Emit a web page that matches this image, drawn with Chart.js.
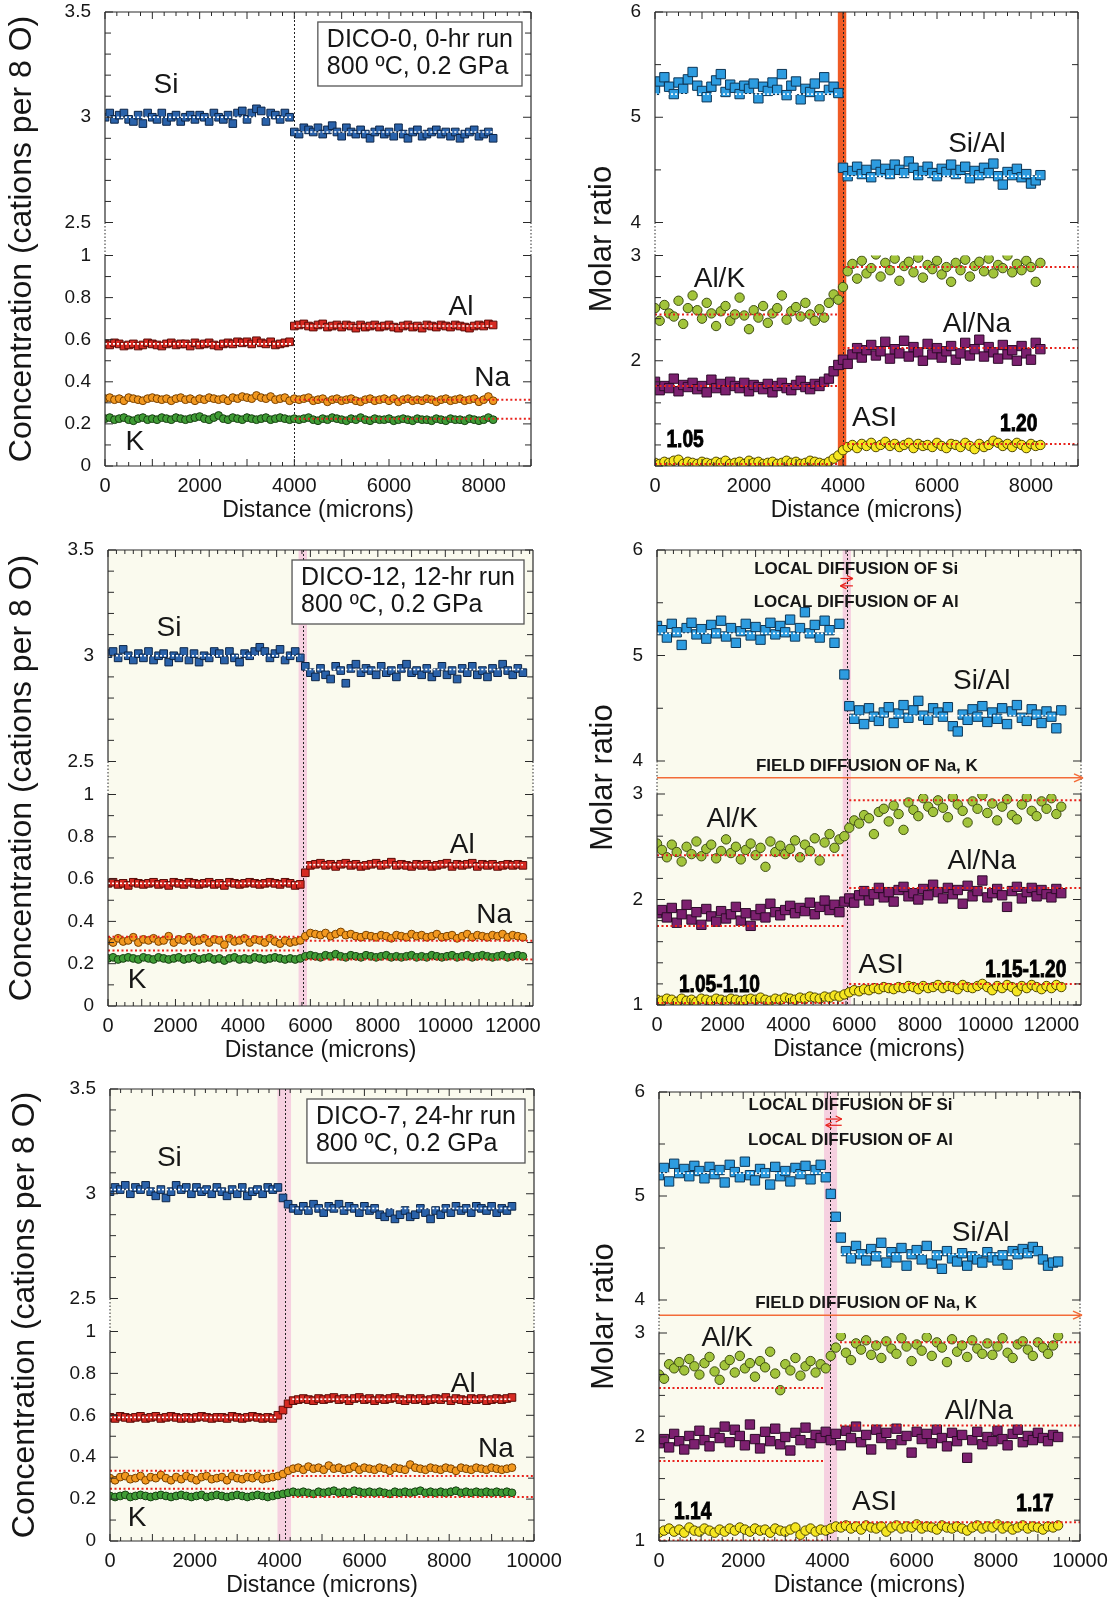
<!DOCTYPE html>
<html>
<head>
<meta charset="utf-8">
<title>DICO diffusion couples</title>
<script src="https://cdn.jsdelivr.net/npm/chart.js@4.4.1/dist/chart.umd.min.js"></script>
<style>
  html, body { margin: 0; padding: 0; background: #fff; }
  #page { position: relative; width: 1110px; height: 1599px; overflow: hidden; }
  #page canvas { position: absolute; }
</style>
</head>
<body>
<div id="page">
  <canvas id="tl"></canvas>
  <canvas id="ml"></canvas>
  <canvas id="bl"></canvas>
  <canvas id="tr"></canvas>
  <canvas id="mr"></canvas>
  <canvas id="br"></canvas>
</div>
<script>
/* ── traverse data: one value per spot, spots evenly spaced along the couple ── */

// spot spacing (microns) for the 0-hr, 12-hr and 24-hr traverses
var stepTop = 100, stepMid = 150, stepBot = 120;

// distance tick labels (microns)
var ticksTop = [0, 2000, 4000, 6000, 8000];
var ticksMid = [0, 2000, 4000, 6000, 8000, 10000, 12000];
var ticksBot = [0, 2000, 4000, 6000, 8000, 10000];

// DICO-0, cations per 8 O
var tlSi = [3.00,3.02,2.99,3.01,3.02,2.99,2.98,3.01,2.97,3.02, 3.00,2.99,3.02,2.98,3.00,3.01,2.98,3.00,3.01,2.99,
  3.01,3.00,2.98,3.02,3.00,2.99,3.01,2.97,3.02,3.03, 2.99,3.02,3.04,3.03,2.98,3.02,3.01,2.99,3.02,3.00,
  2.93,2.92,2.95,2.94,2.93,2.95,2.92,2.94,2.96,2.93, 2.91,2.95,2.93,2.92,2.94,2.92,2.90,2.93,2.94,2.92,
  2.93,2.91,2.95,2.92,2.90,2.93,2.94,2.91,2.92,2.93, 2.94,2.92,2.93,2.91,2.93,2.90,2.92,2.93,2.94,2.91, 2.92,2.93,2.90];
var tlAl = [0.58,0.575,0.585,0.58,0.57,0.575,0.58,0.57,0.575,0.585, 0.58,0.575,0.57,0.58,0.585,0.575,0.58,0.58,0.57,0.585,
  0.575,0.58,0.585,0.575,0.57,0.58,0.585,0.58,0.59,0.585, 0.59,0.58,0.595,0.585,0.58,0.59,0.575,0.58,0.585,0.59,
  0.665,0.67,0.675,0.665,0.66,0.67,0.675,0.66,0.665,0.67, 0.66,0.67,0.665,0.655,0.67,0.66,0.665,0.67,0.66,0.665,
  0.67,0.66,0.655,0.665,0.67,0.66,0.665,0.655,0.67,0.665, 0.66,0.67,0.665,0.66,0.67,0.665,0.66,0.655,0.665,0.67, 0.665,0.675,0.67];
var tlNa = [0.32,0.325,0.315,0.32,0.31,0.325,0.32,0.315,0.31,0.32, 0.325,0.32,0.315,0.32,0.31,0.32,0.325,0.315,0.32,0.31,
  0.32,0.315,0.325,0.32,0.315,0.32,0.31,0.325,0.32,0.33, 0.325,0.32,0.335,0.325,0.32,0.33,0.315,0.32,0.325,0.31,
  0.32,0.315,0.32,0.325,0.31,0.315,0.32,0.305,0.315,0.32, 0.31,0.315,0.32,0.31,0.305,0.315,0.32,0.31,0.315,0.32,
  0.31,0.32,0.305,0.315,0.32,0.31,0.315,0.31,0.32,0.315, 0.305,0.315,0.32,0.31,0.315,0.32,0.31,0.315,0.32,0.305, 0.315,0.33,0.31];
var tlK = [0.225,0.23,0.22,0.225,0.23,0.22,0.215,0.225,0.23,0.22, 0.225,0.22,0.23,0.225,0.22,0.23,0.225,0.22,0.225,0.23,
  0.235,0.225,0.22,0.23,0.24,0.225,0.22,0.23,0.225,0.22, 0.23,0.225,0.22,0.225,0.23,0.22,0.225,0.23,0.225,0.22,
  0.225,0.22,0.225,0.23,0.22,0.215,0.225,0.22,0.23,0.225, 0.22,0.215,0.225,0.22,0.23,0.22,0.215,0.225,0.22,0.22,
  0.225,0.215,0.22,0.225,0.22,0.215,0.225,0.22,0.22,0.215, 0.225,0.22,0.215,0.225,0.22,0.22,0.215,0.225,0.22,0.215, 0.22,0.23,0.22];

// DICO-0, molar ratios
var trSiAl = [5.26,5.34,5.38,5.29,5.22,5.33,5.27,5.36,5.43,5.30, 5.25,5.19,5.29,5.35,5.41,5.24,5.31,5.28,5.22,5.30,
  5.27,5.32,5.18,5.29,5.25,5.33,5.26,5.41,5.21,5.30, 5.34,5.17,5.27,5.24,5.32,5.20,5.38,5.26,5.29,5.23,
  4.52,4.44,4.49,4.53,4.46,4.50,4.43,4.55,4.48,4.51, 4.46,4.55,4.50,4.47,4.58,4.52,4.45,4.49,4.53,4.47,
  4.44,4.51,4.48,4.55,4.46,4.50,4.53,4.42,4.49,4.45, 4.52,4.47,4.56,4.44,4.36,4.48,4.45,4.51,4.43,4.46, 4.37,4.40,4.45];
var trAlK = [2.50,2.38,2.53,2.45,2.42,2.57,2.35,2.50,2.62,2.48, 2.40,2.55,2.45,2.33,2.47,2.52,2.38,2.44,2.60,2.43,
  2.30,2.48,2.41,2.52,2.36,2.45,2.50,2.62,2.39,2.47, 2.51,2.42,2.55,2.44,2.38,2.49,2.41,2.55,2.63,2.58,
  2.70,2.85,2.92,2.78,2.95,2.83,2.88,3.01,2.80,2.93, 2.86,2.97,2.76,2.90,2.94,2.84,2.98,2.79,2.91,2.87,
  2.95,2.82,2.89,2.75,2.93,2.86,2.96,2.80,2.90,2.94, 2.85,2.97,2.83,2.91,2.88,3.00,2.84,2.92,2.86,2.95, 2.89,2.75,2.93];
var trAlNa = [1.80,1.72,1.76,1.74,1.83,1.71,1.77,1.75,1.79,1.73, 1.76,1.70,1.82,1.74,1.78,1.72,1.80,1.76,1.74,1.79,
  1.71,1.77,1.75,1.73,1.78,1.70,1.76,1.79,1.74,1.72, 1.77,1.81,1.75,1.73,1.78,1.76,1.80,1.83,1.90,1.96,
  2.01,1.97,2.06,2.12,2.03,2.10,2.15,2.05,2.09,2.18, 2.02,2.11,2.07,2.19,2.04,2.13,2.08,2.00,2.16,2.06,
  2.12,2.03,2.09,2.14,2.01,2.07,2.17,2.05,2.11,2.20, 2.04,2.13,2.08,2.02,2.15,2.06,2.10,2.00,2.14,2.07, 2.01,2.17,2.11];
var trAsi = [1.03,1.02,1.04,1.03,1.05,1.06,1.02,1.04,1.03,1.02, 1.04,1.03,1.02,1.04,1.03,1.05,1.02,1.03,1.04,1.02,
  1.05,1.03,1.04,1.02,1.03,1.04,1.02,1.03,1.05,1.03, 1.04,1.02,1.03,1.05,1.04,1.03,1.02,1.04,1.07,1.10,
  1.15,1.18,1.20,1.17,1.21,1.19,1.22,1.18,1.20,1.23, 1.19,1.21,1.18,1.20,1.22,1.17,1.21,1.19,1.20,1.18,
  1.22,1.19,1.17,1.21,1.20,1.18,1.22,1.19,1.16,1.21, 1.18,1.20,1.24,1.22,1.19,1.21,1.18,1.22,1.20,1.17, 1.21,1.19,1.20];

// DICO-12, cations per 8 O
var mlSi = [3.01,3.02,2.99,3.03,3.00,2.98,3.01,2.99,3.02,2.98, 3.00,3.01,2.97,3.00,2.99,3.02,2.98,3.01,2.97,3.00,
  2.99,3.02,3.01,2.98,3.02,2.99,2.97,3.01,3.00,3.02, 3.04,3.02,2.99,3.01,3.03,2.98,3.00,3.02,2.99,
  2.95,2.92,2.90,2.94,2.91,2.89,2.95,2.93,2.87,2.94, 2.96,2.92,2.94,2.93,2.91,2.95,2.92,2.93,2.90,2.94,
  2.96,2.92,2.93,2.91,2.94,2.90,2.92,2.95,2.91,2.93, 2.89,2.94,2.92,2.95,2.91,2.93,2.90,2.94,2.92,2.96, 2.93,2.91,2.94,2.92];
var mlAl = [0.58,0.585,0.575,0.58,0.57,0.585,0.58,0.575,0.58,0.585, 0.575,0.58,0.57,0.585,0.58,0.575,0.585,0.58,0.575,0.58,
  0.585,0.575,0.58,0.57,0.585,0.58,0.575,0.58,0.585,0.58, 0.575,0.58,0.585,0.58,0.575,0.585,0.58,0.57,0.575,
  0.63,0.665,0.67,0.675,0.665,0.67,0.66,0.67,0.675,0.665, 0.67,0.66,0.665,0.67,0.675,0.665,0.67,0.68,0.665,0.67,
  0.665,0.66,0.67,0.665,0.67,0.66,0.665,0.67,0.675,0.66, 0.67,0.665,0.67,0.675,0.66,0.67,0.665,0.67,0.66,0.665, 0.67,0.665,0.67,0.665];
var mlNa = [0.31,0.30,0.32,0.305,0.31,0.325,0.30,0.315,0.31,0.32, 0.305,0.31,0.33,0.30,0.315,0.31,0.325,0.305,0.31,0.32,
  0.30,0.315,0.31,0.29,0.32,0.305,0.31,0.32,0.30,0.315, 0.31,0.30,0.32,0.305,0.295,0.31,0.30,0.305,0.31,
  0.33,0.345,0.34,0.335,0.345,0.33,0.34,0.35,0.335,0.34, 0.33,0.325,0.335,0.33,0.325,0.335,0.33,0.32,0.335,0.33,
  0.325,0.34,0.33,0.335,0.325,0.33,0.34,0.325,0.33,0.335, 0.32,0.33,0.34,0.325,0.335,0.33,0.325,0.335,0.33,0.34, 0.325,0.335,0.33,0.325];
var mlK = [0.225,0.23,0.22,0.225,0.23,0.225,0.22,0.23,0.225,0.22, 0.23,0.225,0.22,0.225,0.23,0.22,0.225,0.23,0.22,0.225,
  0.23,0.22,0.225,0.215,0.225,0.23,0.22,0.225,0.22,0.23, 0.225,0.22,0.225,0.23,0.225,0.22,0.225,0.22,0.225,
  0.235,0.24,0.235,0.23,0.24,0.235,0.245,0.235,0.23,0.24, 0.235,0.23,0.24,0.235,0.23,0.235,0.24,0.23,0.235,0.23,
  0.235,0.24,0.23,0.235,0.23,0.24,0.235,0.23,0.235,0.24, 0.23,0.235,0.24,0.23,0.235,0.24,0.235,0.23,0.235,0.24, 0.23,0.235,0.24,0.235];

// DICO-12, molar ratios
var mrSiAl = [5.28,5.24,5.17,5.30,5.22,5.10,5.26,5.31,5.20,5.25, 5.16,5.29,5.21,5.33,5.18,5.26,5.12,5.23,5.30,5.19,
  5.27,5.15,5.24,5.31,5.20,5.28,5.22,5.34,5.18,5.26, 5.41,5.21,5.29,5.17,5.33,5.24,5.12,5.30,4.82,
  4.52,4.40,4.48,4.35,4.50,4.42,4.38,4.46,4.51,4.36, 4.45,4.53,4.41,4.48,4.57,4.43,4.39,4.50,4.46,4.42,
  4.51,4.33,4.28,4.44,4.39,4.49,4.42,4.52,4.37,4.46, 4.40,4.50,4.35,4.47,4.53,4.41,4.38,4.49,4.44,4.36, 4.47,4.42,4.31,4.48];
var mrAlK = [2.53,2.47,2.40,2.52,2.45,2.36,2.50,2.43,2.55,2.41, 2.48,2.52,2.39,2.46,2.57,2.44,2.50,2.38,2.47,2.53,
  2.42,2.49,2.31,2.55,2.45,2.51,2.43,2.48,2.56,2.40, 2.52,2.46,2.58,2.37,2.54,2.62,2.49,2.57,2.60,
  2.68,2.75,2.72,2.80,2.77,2.62,2.83,2.86,2.74,2.89, 2.81,2.66,2.92,2.85,2.79,2.96,2.88,2.83,2.94,2.87,
  2.78,2.97,2.90,2.84,2.73,2.93,2.86,2.99,2.82,2.91, 2.75,2.88,2.95,2.80,2.76,2.90,2.97,2.84,2.79,2.93, 2.86,2.96,2.81,2.88];
var mrAlNa = [1.87,1.90,1.83,1.92,1.78,1.86,1.95,1.81,1.88,1.76, 1.91,1.84,1.79,1.89,1.82,1.86,1.93,1.80,1.87,1.75,
  1.85,1.91,1.83,1.96,1.88,1.85,1.90,1.94,1.87,1.92, 1.89,1.97,1.86,1.93,1.99,1.90,1.95,1.88,1.98,
  2.01,1.97,2.04,2.08,1.99,2.05,2.11,2.02,2.07,1.98, 2.09,2.12,2.03,2.06,2.00,2.10,2.04,2.14,2.07,2.01,
  2.11,2.05,2.09,1.96,2.13,2.03,2.08,2.18,2.02,2.06, 2.10,2.04,1.93,2.08,2.12,2.01,2.07,2.11,2.03,2.09, 2.05,2.02,2.10,2.06];
var mrAsi = [1.05,1.04,1.06,1.05,1.03,1.06,1.04,1.05,1.03,1.06, 1.05,1.04,1.06,1.05,1.04,1.06,1.05,1.04,1.05,1.06,
  1.05,1.07,1.05,1.04,1.06,1.05,1.07,1.06,1.05,1.07, 1.06,1.08,1.07,1.06,1.08,1.07,1.09,1.08,1.10,
  1.12,1.14,1.13,1.15,1.14,1.16,1.15,1.17,1.16,1.15, 1.17,1.16,1.18,1.17,1.15,1.18,1.16,1.17,1.19,1.16,
  1.18,1.17,1.15,1.19,1.17,1.16,1.18,1.20,1.17,1.14, 1.18,1.16,1.19,1.17,1.13,1.18,1.16,1.19,1.17,1.15, 1.18,1.16,1.19,1.17];

// DICO-7, cations per 8 O
var blSi = [3.01,3.03,3.02,3.04,3.00,3.03,3.02,3.04,3.01,2.99, 3.02,2.98,3.01,3.04,3.02,3.03,3.00,3.03,3.01,3.02,
  3.00,3.03,3.01,2.99,3.02,3.00,3.03,2.99,3.01,3.02, 3.00,3.03,3.02,3.03,
  2.98,2.95,2.93,2.92,2.94,2.92,2.95,2.93,2.91,2.94, 2.93,2.95,2.92,2.94,2.93,2.91,2.94,2.92,2.93,2.90,
  2.89,2.91,2.88,2.90,2.92,2.89,2.90,2.93,2.91,2.88, 2.92,2.90,2.93,2.91,2.94,2.92,2.93,2.91,2.94,2.93, 2.92,2.94,2.91,2.93,2.92,2.94];
var blAl = [0.59,0.585,0.595,0.59,0.585,0.59,0.595,0.585,0.59,0.595, 0.585,0.59,0.595,0.59,0.585,0.59,0.585,0.59,0.595,0.59,
  0.585,0.59,0.59,0.585,0.595,0.59,0.585,0.59,0.595,0.59, 0.585,0.59,0.585,0.60,
  0.625,0.655,0.67,0.675,0.68,0.675,0.67,0.68,0.675,0.68, 0.685,0.675,0.68,0.67,0.68,0.685,0.675,0.68,0.67,0.68,
  0.675,0.68,0.685,0.675,0.67,0.68,0.675,0.68,0.67,0.675, 0.68,0.675,0.685,0.67,0.68,0.675,0.67,0.68,0.675,0.68, 0.67,0.675,0.68,0.675,0.68,0.685];
var blNa = [0.30,0.29,0.305,0.31,0.295,0.30,0.31,0.29,0.305,0.30, 0.315,0.30,0.29,0.305,0.295,0.31,0.30,0.29,0.305,0.31,
  0.295,0.30,0.305,0.29,0.31,0.30,0.295,0.305,0.30,0.31, 0.295,0.30,0.305,0.31,
  0.32,0.335,0.345,0.35,0.34,0.355,0.345,0.35,0.34,0.36, 0.345,0.35,0.34,0.345,0.355,0.34,0.35,0.345,0.34,0.35,
  0.345,0.335,0.35,0.345,0.34,0.365,0.35,0.345,0.34,0.35, 0.345,0.34,0.35,0.345,0.335,0.35,0.345,0.34,0.35,0.345, 0.34,0.35,0.345,0.34,0.345,0.35];
var blK = [0.215,0.21,0.215,0.22,0.21,0.215,0.22,0.215,0.21,0.215, 0.22,0.215,0.21,0.215,0.22,0.215,0.21,0.215,0.22,0.21,
  0.215,0.22,0.215,0.21,0.215,0.22,0.215,0.21,0.215,0.22, 0.215,0.21,0.215,0.22,
  0.225,0.23,0.235,0.23,0.235,0.23,0.225,0.235,0.23,0.235, 0.24,0.23,0.235,0.23,0.24,0.235,0.23,0.235,0.23,0.235,
  0.23,0.225,0.235,0.23,0.235,0.23,0.235,0.24,0.23,0.235, 0.23,0.235,0.23,0.235,0.24,0.23,0.235,0.23,0.235,0.23, 0.235,0.23,0.235,0.23,0.235,0.23];

// DICO-7, molar ratios
var brSiAl = [5.20,5.27,5.14,5.31,5.22,5.26,5.19,5.29,5.24,5.17, 5.28,5.21,5.25,5.13,5.30,5.23,5.18,5.33,5.20,5.15,
  5.26,5.22,5.11,5.28,5.19,5.24,5.14,5.27,5.21,5.29, 5.16,5.25,5.30,5.18,
  5.02,4.80,4.60,4.47,4.40,4.52,4.44,4.38,4.49,4.42, 4.55,4.36,4.46,4.41,4.50,4.33,4.44,4.48,4.39,4.52,
  4.35,4.43,4.30,4.47,4.40,4.37,4.45,4.33,4.42,4.39, 4.36,4.46,4.41,4.38,4.43,4.34,4.47,4.44,4.49,4.45, 4.51,4.47,4.39,4.33,4.36,4.37];
var brAlK = [2.60,2.56,2.70,2.66,2.72,2.64,2.75,2.68,2.60,2.71, 2.77,2.63,2.55,2.69,2.74,2.62,2.78,2.66,2.71,2.58,
  2.73,2.67,2.82,2.61,2.45,2.70,2.64,2.76,2.59,2.68, 2.73,2.62,2.70,2.66,
  2.78,2.86,2.97,2.81,2.74,2.90,2.84,2.93,2.79,2.88, 2.76,2.92,2.85,2.80,2.95,2.87,2.73,2.89,2.83,2.96,
  2.78,2.91,2.86,2.72,2.94,2.82,2.88,2.77,2.93,2.85, 2.80,2.90,2.79,2.87,2.95,2.81,2.76,2.89,2.92,2.84, 2.78,2.91,2.86,2.80,2.88,2.97];
var brAlNa = [1.94,1.98,1.90,2.03,1.96,1.88,2.01,1.93,2.06,1.97, 1.91,2.04,1.99,2.10,1.95,2.07,2.01,1.92,2.12,1.98,
  1.89,2.05,1.96,2.08,1.93,2.00,1.87,2.04,1.97,2.09, 1.94,2.02,1.99,2.05,
  1.97,2.03,1.92,2.06,1.99,2.10,1.95,2.02,1.88,2.07, 1.99,2.04,1.93,2.08,1.97,2.01,1.85,2.05,1.98,2.03,
  1.94,2.07,1.99,1.91,2.04,1.96,2.02,1.80,1.97,2.05, 1.93,2.00,1.96,2.06,1.98,1.92,2.03,2.07,1.95,2.01, 1.97,2.04,1.99,1.96,2.02,2.00];
var brAsi = [1.08,1.10,1.12,1.09,1.11,1.08,1.13,1.10,1.09,1.12, 1.10,1.08,1.11,1.09,1.12,1.10,1.13,1.11,1.09,1.12,
  1.10,1.11,1.08,1.12,1.10,1.09,1.11,1.13,1.06,1.10, 1.12,1.09,1.11,1.10,
  1.12,1.14,1.13,1.15,1.12,1.14,1.11,1.15,1.13,1.12, 1.14,1.09,1.13,1.15,1.12,1.14,1.13,1.16,1.12,1.14,
  1.13,1.11,1.15,1.13,1.12,1.14,1.12,1.10,1.13,1.15, 1.12,1.14,1.13,1.16,1.12,1.14,1.11,1.13,1.15,1.12, 1.14,1.13,1.11,1.14,1.13,1.15];

// reference levels: [series, from (microns), to (microns), level]
var tlGuides = [['Si',0,3950,3.00],['Si',4000,8200,2.93],['Al',0,3950,0.58],['Al',4000,8200,0.665],
  ['Na',4000,9000,0.315],['K',4000,9000,0.225]];
var trGuides = [['SiAl',0,3900,5.22],['SiAl',4000,8200,4.44],['AlK',0,3900,2.44],['AlK',4000,9000,2.89],
  ['AlNa',0,3900,1.76],['AlNa',4000,9000,2.12],['ASI',0,3900,1.02],['ASI',4000,9000,1.21]];
var mlGuides = [['Si',0,5700,3.00],['Si',5850,12300,2.935],['Al',0,5700,0.58],['Al',5850,12300,0.668],
  ['Na',0,5700,0.328],['Na',5850,12600,0.308],['K',0,5700,0.262],['K',5850,12600,0.22]];
var mrGuides = [['SiAl',0,5700,5.21],['SiAl',5850,12300,4.43],['AlK',0,5700,2.42],['AlK',5850,12900,2.94],
  ['AlNa',0,5700,1.75],['AlNa',5850,12900,2.11],['ASI',0,5700,1.02],['ASI',5850,12900,1.20]];
var blGuides = [['Si',0,3960,3.02],['Si',4300,9480,2.93],['Al',0,3960,0.59],['Al',4300,9480,0.677],
  ['Na',0,3900,0.335],['Na',4300,10000,0.31],['K',0,3900,0.25],['K',4300,10000,0.21]];
var brGuides = [['SiAl',0,3960,5.22],['SiAl',4300,8900,4.44],['AlK',0,3900,2.47],['AlK',4300,10000,2.91],
  ['AlNa',0,3900,1.77],['AlNa',4300,10000,2.11],['ASI',0,3900,1.005],['ASI',4300,10000,1.18]];

// interface position and interface zone (microns)
var tlCut = 4000, trCut = 3990, mlCut = 5770, mrCut = 5770, blCut = 4130, brCut = 4070;
var trZone = [3890, 4070], mlZone = [5650, 5900], mrZone = [5650, 5900], blZone = [3950, 4270], brZone = [3920, 4230];

/* ── styling ── */

var FONT = '"Liberation Sans", Arial, Helvetica, sans-serif';
var INK = '#161616';
var GAP = 33;

var marks = {
  Si:   {fill:'#2a62aa', edge:'#0c2548', shape:'rect',   axis:'yHi', guide:'#ffffff'},
  Al:   {fill:'#d62a22', edge:'#5a0c08', shape:'rect',   axis:'yLo', guide:'#ffffff'},
  Na:   {fill:'#f2981f', edge:'#774000', shape:'circle', axis:'yLo', guide:'#e8221c'},
  K:    {fill:'#3f9c35', edge:'#173f12', shape:'circle', axis:'yLo', guide:'#e8221c'},
  SiAl: {fill:'#2d9ce0', edge:'#0d3656', shape:'rect',   axis:'yHi', guide:'#ffffff'},
  AlK:  {fill:'#a2c43b', edge:'#3f4d12', shape:'circle', axis:'yLo', guide:'#e8221c'},
  AlNa: {fill:'#7c206f', edge:'#2d0a29', shape:'rect',   axis:'yLo', guide:'#e8221c'},
  ASI:  {fill:'#f6e620', edge:'#4d4400', shape:'circle', axis:'yLo', guide:'#e8221c'}
};

var panels = [
  { id:'tl', box:[0,0,575,525], plot:[105,531,12,466], ratio:false, xMax:9000, step:stepTop, xTicks:ticksTop,
    series:[['Si',tlSi],['Al',tlAl],['Na',tlNa],['K',tlK]], guides:tlGuides, cut:tlCut, zone:null,
    zoneColor:null, cream:false, yTitleDx:83,
    tags:[['Si',1290,3.15,'yHi'],['Al',7520,0.755,'yLo'],['Na',8180,0.415,'yLo'],['K',630,0.115,'yLo']],
    note:['DICO-0, 0-hr run','800 ºC, 0.2 GPa'] },
  { id:'tr', box:[555,0,555,525], plot:[655,1078,12,466], ratio:true, xMax:9000, step:stepTop, xTicks:ticksTop,
    series:[['SiAl',trSiAl],['AlK',trAlK],['AlNa',trAlNa],['ASI',trAsi]], guides:trGuides, cut:trCut, zone:trZone,
    zoneColor:'#f05a24', cream:false, yTitleDx:53, hideOne:true,
    tags:[['Si/Al',6850,4.74,'yHi'],['Al/K',1370,2.77,'yLo'],['Al/Na',6850,2.35,'yLo'],['ASI',4670,1.45,'yLo']],
    bold:[['1.05',640,1.24],['1.20',7740,1.40]] },
  { id:'ml', box:[0,525,575,540], plot:[108,533,550,1006], ratio:false, xMax:12600, step:stepMid, xTicks:ticksMid,
    series:[['Si',mlSi],['Al',mlAl],['Na',mlNa],['K',mlK]], guides:mlGuides, cut:mlCut, zone:mlZone,
    zoneColor:'#f6d0e0', cream:true, yTitleDx:86,
    tags:[['Si',1810,3.13,'yHi'],['Al',10500,0.76,'yLo'],['Na',11450,0.43,'yLo'],['K',860,0.12,'yLo']],
    note:['DICO-12, 12-hr run','800 ºC, 0.2 GPa'] },
  { id:'mr', box:[555,525,555,540], plot:[657,1081,550,1005], ratio:true, xMax:12900, step:stepMid, xTicks:ticksMid,
    series:[['SiAl',mrSiAl],['AlK',mrAlK],['AlNa',mrAlNa],['ASI',mrAsi]], guides:mrGuides, cut:mrCut, zone:mrZone,
    zoneColor:'#f6d0e0', cream:true, yTitleDx:54,
    tags:[['Si/Al',9880,4.76,'yHi'],['Al/K',2290,2.76,'yLo'],['Al/Na',9880,2.36,'yLo'],['ASI',6820,1.38,'yLo']],
    bold:[['1.05-1.10',1900,1.19],['1.15-1.20',11220,1.33]],
    local:{x:6060, si:5.82, al:5.50, arrows:[[5580,5960,5.73],[5960,5580,5.66]]},
    field:{x:6385, text:0.84, level:0.49} },
  { id:'bl', box:[0,1062,575,537], plot:[110,534,1089,1541], ratio:false, xMax:10000, step:stepBot, xTicks:ticksBot,
    series:[['Si',blSi],['Al',blAl],['Na',blNa],['K',blK]], guides:blGuides, cut:blCut, zone:blZone,
    zoneColor:'#f6d0e0', cream:true, yTitleDx:85,
    tags:[['Si',1400,3.17,'yHi'],['Al',8330,0.75,'yLo'],['Na',9100,0.44,'yLo'],['K',640,0.11,'yLo']],
    note:['DICO-7, 24-hr run','800 ºC, 0.2 GPa'] },
  { id:'br', box:[555,1062,555,537], plot:[659,1080,1092,1541], ratio:true, xMax:10000, step:stepBot, xTicks:ticksBot,
    series:[['SiAl',brSiAl],['AlK',brAlK],['AlNa',brAlNa],['ASI',brAsi]], guides:brGuides, cut:brCut, zone:brZone,
    zoneColor:'#f6d0e0', cream:true, yTitleDx:55,
    tags:[['Si/Al',7640,4.64,'yHi'],['Al/K',1620,2.95,'yLo'],['Al/Na',7600,2.25,'yLo'],['ASI',5120,1.37,'yLo']],
    bold:[['1.14',800,1.28],['1.17',8930,1.35]],
    local:{x:4550, si:5.87, al:5.54, arrows:[[3960,4340,5.74],[4340,3960,5.68]]},
    field:{x:4920, text:0.9, level:0.54} }
];

var panelById = {};
panels.forEach(function(p){ panelById[p.id] = p; });

/* ── drawing helpers ── */

function seg(ctx, x0, y0, x1, y1){
  ctx.beginPath(); ctx.moveTo(x0, y0); ctx.lineTo(x1, y1); ctx.stroke();
}

function arrowHead(ctx, x, y, dir, len, half){
  seg(ctx, x, y, x - dir * len, y - half);
  seg(ctx, x, y, x - dir * len, y + half);
}

function text(ctx, s, x, y, font, align){
  ctx.font = font; ctx.fillStyle = INK;
  ctx.textAlign = align || 'center'; ctx.textBaseline = 'middle';
  ctx.fillText(s, x, y);
}

// heavy condensed figure labels (ASI values)
function boldFigure(ctx, s, x, y){
  ctx.save();
  ctx.translate(x, y); ctx.scale(0.8, 1);
  ctx.font = 'bold 24px ' + FONT;
  ctx.textAlign = 'center'; ctx.textBaseline = 'middle';
  ctx.fillStyle = '#000'; ctx.strokeStyle = '#000'; ctx.lineWidth = 0.9;
  ctx.fillText(s, 0, 0); ctx.strokeText(s, 0, 0);
  ctx.restore();
}

function yTickMarks(ctx, scale, step, major, a){
  var n = Math.round((scale.max - scale.min) / step);
  for (var k = 0; k <= n; k++) {
    var v = scale.min + k * step;
    var y = scale.getPixelForValue(v);
    var r = v / major, len = Math.abs(r - Math.round(r)) < 1e-6 ? 8 : 6;
    seg(ctx, a.left, y, a.left + len, y);
    seg(ctx, a.right, y, a.right - len, y);
  }
}

var decor = {
  id: 'decor',
  beforeDatasetsDraw: function(chart){
    var p = panelById[chart.canvas.id], a = chart.chartArea, ctx = chart.ctx, xs = chart.scales.x;
    ctx.save();
    if (p.cream) { ctx.fillStyle = '#fafaee'; ctx.fillRect(a.left, a.top, a.right - a.left, a.bottom - a.top); }
    if (p.zone) {
      var z0 = xs.getPixelForValue(p.zone[0]), z1 = xs.getPixelForValue(p.zone[1]);
      ctx.fillStyle = p.zoneColor; ctx.fillRect(z0, a.top, z1 - z0, a.bottom - a.top);
    }
    var cx = Math.round(xs.getPixelForValue(p.cut)) + 0.5;
    ctx.strokeStyle = '#222'; ctx.lineWidth = 1; ctx.setLineDash([2, 2]);
    seg(ctx, cx, a.top, cx, a.bottom);
    ctx.restore();
  },
  afterDatasetsDraw: function(chart){
    var p = panelById[chart.canvas.id], a = chart.chartArea, ctx = chart.ctx, s = chart.scales;
    var xs = s.x, gap = s.yGap;
    ctx.save();

    // frame, dotted across the axis break
    ctx.strokeStyle = '#2a2a2a'; ctx.lineWidth = 1.2;
    seg(ctx, a.left, a.top, a.right, a.top);
    seg(ctx, a.left, a.bottom, a.right, a.bottom);
    [a.left, a.right].forEach(function(x){
      seg(ctx, x, a.top, x, gap.top);
      seg(ctx, x, gap.bottom, x, a.bottom);
    });
    ctx.setLineDash([1.5, 2]); ctx.lineWidth = 1;
    seg(ctx, a.left, gap.top, a.left, gap.bottom);
    seg(ctx, a.right, gap.top, a.right, gap.bottom);
    ctx.setLineDash([]);

    // inward tick marks on all four sides
    ctx.lineWidth = 1;
    if (p.ratio) { yTickMarks(ctx, s.yHi, 0.5, 1, a); yTickMarks(ctx, s.yLo, 0.2, 1, a); }
    else { yTickMarks(ctx, s.yHi, 0.1, 0.5, a); yTickMarks(ctx, s.yLo, 0.1, 0.2, a); }
    for (var v = 0; v <= p.xMax; v += 250) {
      var x = xs.getPixelForValue(v), len = v % 1000 === 0 ? 7 : 4;
      seg(ctx, x, a.bottom, x, a.bottom - len);
      seg(ctx, x, a.top, x, a.top + len);
    }

    // series names
    p.tags.forEach(function(t){
      text(ctx, t[0], xs.getPixelForValue(t[1]), s[t[3]].getPixelForValue(t[2]), '28px ' + FONT);
    });
    (p.bold || []).forEach(function(t){
      boldFigure(ctx, t[0], xs.getPixelForValue(t[1]), s.yLo.getPixelForValue(t[2]));
    });

    // run label
    if (p.note) {
      ctx.font = '25px ' + FONT;
      var w = Math.max(ctx.measureText(p.note[0]).width, ctx.measureText(p.note[1]).width) + 18;
      var bx = a.right - 9 - w, by = a.top + 10;
      ctx.fillStyle = '#fff'; ctx.fillRect(bx, by, w, 64);
      ctx.strokeStyle = '#555'; ctx.lineWidth = 1.3; ctx.strokeRect(bx, by, w, 64);
      text(ctx, p.note[0], bx + 9, by + 18, '25px ' + FONT, 'left');
      text(ctx, p.note[1], bx + 9, by + 45, '25px ' + FONT, 'left');
    }

    // diffusion notes
    if (p.local) {
      var lx = xs.getPixelForValue(p.local.x);
      text(ctx, 'LOCAL DIFFUSION OF Si', lx, s.yHi.getPixelForValue(p.local.si), 'bold 17px ' + FONT);
      text(ctx, 'LOCAL DIFFUSION OF Al', lx, s.yHi.getPixelForValue(p.local.al), 'bold 17px ' + FONT);
      ctx.strokeStyle = '#e8221c'; ctx.lineWidth = 1.2;
      p.local.arrows.forEach(function(r){
        var x0 = xs.getPixelForValue(r[0]), x1 = xs.getPixelForValue(r[1]), y = s.yHi.getPixelForValue(r[2]);
        seg(ctx, x0, y, x1, y);
        arrowHead(ctx, x1, y, x1 > x0 ? 1 : -1, 6, 3);
      });
    }
    if (p.field) {
      text(ctx, 'FIELD DIFFUSION OF Na, K', xs.getPixelForValue(p.field.x), gap.getPixelForValue(p.field.text), 'bold 17px ' + FONT);
      ctx.strokeStyle = '#f36b38'; ctx.lineWidth = 1.5;
      arrowHead(ctx, a.right + 2, gap.getPixelForValue(p.field.level), 1, 9, 4);
    }

    // axis titles
    text(ctx, 'Distance (microns)', (a.left + a.right) / 2, a.bottom + 45, '23px ' + FONT);
    ctx.save();
    ctx.translate(a.left - p.yTitleDx, (a.top + a.bottom) / 2);
    ctx.rotate(-Math.PI / 2);
    text(ctx, p.ratio ? 'Molar ratio' : 'Concentration (cations per 8 O)', 0, 0, (p.ratio ? '31px ' : '32px ') + FONT);
    ctx.restore();

    ctx.restore();
  }
};

/* ── charts ── */

function fitY(scale){
  scale.width = 52;
  scale.paddingTop = scale.paddingBottom = scale.paddingLeft = scale.paddingRight = 0;
}
function fitX(scale){
  scale.height = 40;
  scale.paddingTop = scale.paddingBottom = scale.paddingLeft = scale.paddingRight = 0;
}

function buildPanel(p){
  var cv = document.getElementById(p.id);
  cv.width = p.box[2]; cv.height = p.box[3];
  cv.style.left = p.box[0] + 'px'; cv.style.top = p.box[1] + 'px';

  var L = p.plot[0] - p.box[0], R = p.plot[1] - p.box[0];
  var T = p.plot[2] - p.box[1], B = p.plot[3] - p.box[1];
  var sec = (B - T - GAP) / 2;
  var sq = p.ratio ? 6.6 : 5.4, dot = p.ratio ? 4.7 : 3.9;

  var datasets = [];
  p.series.forEach(function(sr){
    var m = marks[sr[0]];
    datasets.push({
      type: 'scatter', label: sr[0], yAxisID: m.axis, order: 2,
      data: sr[1].map(function(v, i){ return {x: i * p.step, y: v}; }),
      pointStyle: m.shape, pointRadius: m.shape === 'rect' ? sq : dot,
      backgroundColor: m.fill, borderColor: m.edge, borderWidth: 1, showLine: false
    });
  });
  p.guides.forEach(function(g){
    var m = marks[g[0]], white = m.guide === '#ffffff';
    datasets.push({
      type: 'line', yAxisID: m.axis, order: 1,
      data: [{x: g[1], y: g[3]}, {x: g[2], y: g[3]}],
      borderColor: m.guide, borderWidth: white ? 1.6 : 2, borderDash: white ? [2, 2] : [2, 2.5],
      pointRadius: 0, fill: false
    });
  });
  if (p.field) {
    datasets.push({
      type: 'line', yAxisID: 'yGap', order: 0,
      data: [{x: 0, y: p.field.level}, {x: p.xMax, y: p.field.level}],
      borderColor: '#f36b38', borderWidth: 1.5, pointRadius: 0, fill: false
    });
  }

  var hi = p.ratio ? [4, 6, 1] : [2.5, 3.5, 0.5];
  var lo = p.ratio ? [1, 3, 1] : [0, 1, 0.2];
  function yAxis(r, w, weight){
    return {
      type: 'linear', position: 'left', stack: 'y', stackWeight: w, weight: weight,
      min: r[0], max: r[1], grid: {display: false, drawTicks: false}, border: {display: false},
      ticks: {stepSize: r[2], autoSkip: false, padding: 14, color: INK,
        font: {family: FONT, size: 19},
        callback: function(v){ return (p.hideOne && v === 1) ? '' : String(Math.round(v * 10) / 10); }},
      afterFit: fitY
    };
  }

  new Chart(cv, {
    data: {datasets: datasets},
    plugins: [decor],
    options: {
      responsive: false, animation: false, events: [],
      layout: {autoPadding: false, padding: {left: L - 52, right: p.box[2] - R, top: T, bottom: p.box[3] - B - 40}},
      plugins: {legend: {display: false}, tooltip: {enabled: false}},
      scales: {
        x: {type: 'linear', position: 'bottom', min: 0, max: p.xMax,
          grid: {display: false, drawTicks: false}, border: {display: false},
          afterBuildTicks: function(scale){ scale.ticks = p.xTicks.map(function(v){ return {value: v}; }); },
          ticks: {autoSkip: false, maxRotation: 0, minRotation: 0, padding: 8,
            color: INK, font: {family: FONT, size: 20}, callback: function(v){ return String(v); }},
          afterFit: fitX},
        yHi: yAxis(hi, sec, 3),
        yGap: {type: 'linear', position: 'left', stack: 'y', stackWeight: GAP, weight: 2, min: 0, max: 1,
          grid: {display: false, drawTicks: false}, border: {display: false}, ticks: {display: false}, afterFit: fitY},
        yLo: yAxis(lo, sec, 1)
      }
    }
  });
}

panels.forEach(buildPanel);
</script>
</body>
</html>
